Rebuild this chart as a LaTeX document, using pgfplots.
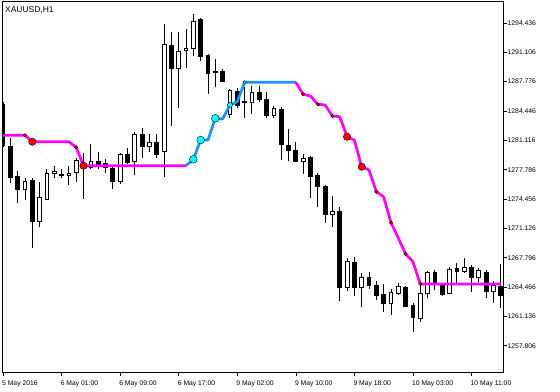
\documentclass[border=0pt]{standalone}
\usepackage{pgfplots}
\pgfplotsset{compat=1.18}
\usepackage{pgfplotstable}
\usepackage{fontspec}
\setmainfont{Liberation Sans}
\definecolor{mtmag}{RGB}{255,0,255}
\definecolor{mtblue}{RGB}{30,144,255}
\definecolor{mtcyan}{RGB}{0,255,255}
\definecolor{mtred}{RGB}{255,0,0}

% bullish (white) candles: index open high low close
\pgfplotstableread{
i O H L C
3 1275.59 1276.84 1274.34 1276.50
5 1271.96 1276.39 1271.28 1274.69
6 1274.46 1277.86 1274.34 1277.41
7 1277.41 1278.20 1276.84 1277.64
8 1277.18 1277.86 1276.84 1277.30
9 1277.18 1278.20 1276.05 1277.41
10 1277.52 1279.11 1276.39 1278.88
11 1278.09 1279.68 1274.46 1278.32
12 1278.09 1280.70 1277.86 1278.77
16 1276.50 1279.68 1276.16 1279.57
18 1278.77 1282.06 1277.18 1281.84
20 1280.47 1281.84 1279.79 1280.93
22 1279.91 1294.32 1276.96 1292.05
24 1289.33 1293.41 1284.79 1291.26
25 1291.37 1293.75 1289.33 1291.60
26 1291.60 1295.46 1290.69 1294.66
31 1284.11 1286.94 1283.65 1286.83
34 1285.47 1287.28 1284.11 1286.60
37 1283.99 1285.01 1283.65 1284.79
41 1278.77 1279.57 1277.30 1279.11
45 1272.76 1274.80 1271.28 1273.10
47 1264.47 1267.76 1264.02 1267.42
49 1264.47 1266.06 1262.20 1265.60
53 1262.65 1264.24 1261.29 1263.90
54 1263.79 1264.92 1263.56 1264.58
57 1260.95 1264.92 1260.50 1263.79
58 1263.79 1266.29 1263.22 1266.17
61 1263.79 1266.74 1263.67 1266.51
63 1266.29 1267.76 1266.06 1266.74
65 1265.60 1266.63 1265.04 1266.40
67 1264.02 1265.15 1262.65 1264.70
}\bull

% bearish (black) candles: index open high low close
\pgfplotstableread{
i O H L C
0 1285.24 1285.47 1280.36 1280.59
1 1280.47 1281.38 1276.27 1276.96
2 1277.07 1277.64 1274.00 1275.59
4 1276.61 1276.84 1268.90 1271.96
13 1278.77 1279.79 1277.86 1278.43
14 1278.54 1279.00 1277.41 1278.09
15 1277.98 1278.20 1275.59 1276.50
17 1279.57 1280.25 1278.43 1278.66
19 1281.84 1282.52 1279.11 1280.47
21 1280.93 1281.84 1279.11 1279.57
23 1291.94 1293.41 1282.74 1289.33
27 1294.89 1295.00 1290.12 1290.69
28 1290.80 1290.92 1286.38 1288.76
29 1288.99 1290.35 1287.17 1288.87
30 1288.99 1289.21 1287.74 1287.85
32 1286.72 1287.06 1284.79 1285.13
33 1285.58 1287.17 1283.65 1285.47
35 1286.60 1287.28 1285.47 1285.81
36 1285.81 1286.60 1283.65 1283.99
38 1284.67 1284.90 1278.88 1280.70
39 1280.59 1282.40 1278.77 1280.02
40 1280.02 1280.93 1278.66 1278.77
42 1279.23 1279.30 1274.57 1277.07
43 1277.18 1277.41 1273.55 1275.93
44 1275.93 1276.00 1271.73 1272.76
46 1273.10 1273.55 1262.88 1264.47
48 1267.31 1267.87 1263.45 1264.47
50 1265.60 1266.17 1264.24 1264.70
51 1264.70 1265.15 1262.99 1263.56
52 1263.67 1264.81 1261.63 1262.65
55 1264.47 1264.58 1262.20 1262.31
56 1262.43 1262.65 1259.36 1261.06
59 1266.17 1266.40 1264.13 1264.92
60 1264.70 1264.81 1263.45 1263.67
62 1266.63 1267.19 1264.70 1266.29
64 1266.74 1266.97 1263.90 1265.60
66 1266.17 1266.40 1263.22 1264.02
68 1264.58 1267.08 1262.09 1263.56
}\bear

\pgfplotsset{
  wick/.style={draw=none, mark=none, forget plot,
    error bars/.cd, y dir=plus, y explicit, error mark=none,
    draw error bar/.code 2 args={%
      \draw[black, line width=0.9bp] ##1 -- ##2;}},
  body/.style={draw=none, mark=none, forget plot,
    error bars/.cd, y dir=plus, y explicit, error mark=none,
    draw error bar/.code 2 args={%
      \path ##1 coordinate (cA) ##2 coordinate (cB);
      \filldraw[draw=black, fill=#1, line width=0.9bp]
        ([xshift=-1.9bp]cA) rectangle ([xshift=1.9bp]cB);}},
}

\begin{document}
\begin{tikzpicture}
\useasboundingbox (-2bp,-19.3bp) rectangle (558bp,372.7bp);
\begin{axis}[
  scale only axis, width=501bp, height=371.2bp,
  at={(0,0)}, anchor=south west,
  xmin=-0.137, xmax=68.3, ymin=1254.741, ymax=1296.876,
  axis line style={black, line width=0.7bp},
  tick align=outside, major tick length=3.5bp,
  xtick pos=bottom, ytick pos=right, yticklabel pos=right,
  tick style={black, line width=0.6bp},
  xtick={0,8,16,24,32,40,48,56,64},
  xticklabels={5 May 2016,6 May 01:00,6 May 09:00,6 May 17:00,9 May 02:00,9 May 10:00,9 May 18:00,10 May 03:00,10 May 11:00},
  ytick={1257.806,1261.136,1264.466,1267.796,1271.126,1274.456,1277.786,1281.116,1284.446,1287.776,1291.106,1294.436},
  yticklabels={1257.806,1261.136,1264.466,1267.796,1271.126,1274.456,1277.786,1281.116,1284.446,1287.776,1291.106,1294.436},
  xticklabel style={anchor=north west, inner sep=0pt, xshift=-1bp, yshift=-4.2bp, font=\fontsize{6.8}{8}\selectfont},
  yticklabel style={anchor=west, inner sep=0pt, xshift=1bp, font=\fontsize{6.8}{8}\selectfont},
  clip=true,
]
% wicks
\addplot[wick] table[x=i, y=L, y error expr=\thisrow{H}-\thisrow{L}] {\bull};
\addplot[wick] table[x=i, y=L, y error expr=\thisrow{H}-\thisrow{L}] {\bear};
% bodies
\addplot[body=white] table[x=i, y=O, y error expr=\thisrow{C}-\thisrow{O}] {\bull};
\addplot[body=black] table[x=i, y=C, y error expr=\thisrow{O}-\thisrow{C}] {\bear};

% trailing stop line
\addplot[mtmag, line width=2.7bp, line join=round, mark=none] table {
0 1281.69
1 1281.69
2 1281.69
3 1281.69
4 1280.96
5 1280.96
6 1280.96
7 1280.96
8 1280.96
9 1280.96
10 1280.33
11 1278.24
12 1278.24
13 1278.24
14 1278.24
15 1278.24
16 1278.24
17 1278.24
18 1278.24
19 1278.24
20 1278.24
21 1278.24
22 1278.24
23 1278.24
24 1278.24
25 1278.24
};
\addplot[mtblue, line width=2.7bp, line join=round, mark=none] table {
25 1278.24
26 1278.96
27 1281.15
28 1281.15
29 1283.62
30 1283.54
31 1285.13
32 1285.50
33 1287.70
34 1287.70
35 1287.70
36 1287.70
37 1287.70
38 1287.70
39 1287.70
40 1287.70
};
\addplot[mtmag, line width=2.7bp, line join=round, mark=none] table {
40 1287.70
41 1286.34
42 1286.15
43 1285.21
44 1285.13
45 1283.88
46 1283.80
47 1281.53
48 1281.15
49 1278.12
50 1277.75
51 1275.29
52 1274.69
53 1271.77
54 1270.03
55 1268.21
56 1267.34
57 1264.81
58 1264.81
59 1264.81
60 1264.81
61 1264.81
62 1264.81
63 1264.81
64 1264.81
65 1264.81
66 1264.81
67 1264.81
68 1264.81
};
% signal dots
\addplot[only marks, mark=*, mark size=1.7bp, mark options={draw=none, fill=mtred}] coordinates {
(3,1281.69) (10,1280.33) (41,1286.34) (43,1285.21) (45,1283.88) (51,1275.29) (53,1271.77) (55,1268.21) (57,1264.81)};
\addplot[only marks, mark=*, mark size=3.7bp, mark options={draw=none, fill=mtred}] coordinates {
(4,1280.96) (11,1278.24) (47,1281.53) (49,1278.12)};
\addplot[only marks, mark=*, mark size=3.9bp, mark options={draw=none, fill=mtcyan}] coordinates {
(26,1278.96) (27,1281.15) (29,1283.62)};
\addplot[only marks, mark=*, mark size=2.5bp, mark options={draw=none, fill=mtcyan}] coordinates {
(31,1285.13)};
\addplot[only marks, mark=*, mark size=1.7bp, mark options={draw=none, fill=mtcyan}] coordinates {
(33,1287.70)};

\node[anchor=north west, inner sep=0pt, xshift=3bp, yshift=-4.5bp, font=\fontsize{8.5}{10}\selectfont] at (rel axis cs:0,1) {XAUUSD,H1};
\end{axis}
\end{tikzpicture}
\end{document}
